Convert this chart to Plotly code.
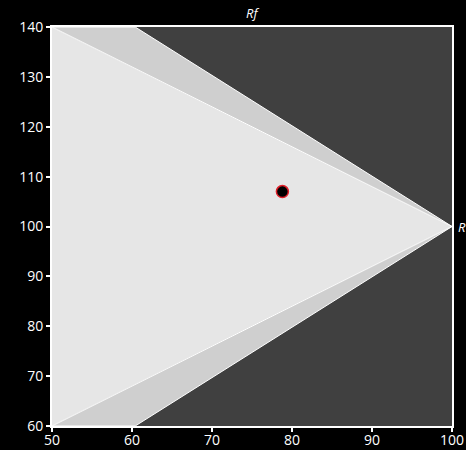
import plotly.graph_objects as go

# Data
tri_light_x = [50, 100, 50]
tri_light_y = [140, 100, 60]
wedge_top_x = [50, 60.4, 100]
wedge_top_y = [140, 140, 100]
wedge_bot_x = [50, 60.4, 100]
wedge_bot_y = [60, 60, 100]
point_x = [78.8]
point_y = [107.0]

fig = go.Figure()
fig.add_trace(go.Scatter(x=wedge_top_x, y=wedge_top_y, fill="toself", mode="lines",
                         fillcolor="#cfcfcf", line=dict(color="white", width=1), hoverinfo="skip"))
fig.add_trace(go.Scatter(x=wedge_bot_x, y=wedge_bot_y, fill="toself", mode="lines",
                         fillcolor="#cfcfcf", line=dict(color="white", width=1), hoverinfo="skip"))
fig.add_trace(go.Scatter(x=tri_light_x, y=tri_light_y, fill="toself", mode="lines",
                         fillcolor="#e6e6e6", line=dict(color="white", width=1), hoverinfo="skip"))
fig.add_trace(go.Scatter(x=point_x, y=point_y, mode="markers",
                         marker=dict(size=12, color="black", line=dict(color="#e0202a", width=1.5))))

font = dict(family="Open Sans, sans-serif", size=14, color="white")
fig.update_layout(
    width=466, height=450,
    paper_bgcolor="black", plot_bgcolor="#404040",
    margin=dict(l=52, r=14, t=27, b=24),
    showlegend=False,
    font=font,
    xaxis=dict(range=[50, 100], dtick=10, showgrid=False, zeroline=False,
               showline=True, linecolor="white", linewidth=2, mirror=True,
               ticks="outside", tickcolor="white", ticklen=4, tickwidth=2,
               tickfont=font, automargin=False, ticklabelstandoff=-4),
    yaxis=dict(range=[60, 140], dtick=10, showgrid=False, zeroline=False,
               showline=True, linecolor="white", linewidth=2, mirror=True,
               ticks="outside", tickcolor="white", ticklen=4, tickwidth=2,
               tickfont=font, automargin=False),
    annotations=[
        dict(text="<i>Rf</i>", x=0.5, y=1, xref="paper", yref="paper",
             xanchor="center", yanchor="bottom", yshift=3, showarrow=False,
             font=dict(family="Open Sans, sans-serif", size=13, color="white")),
        dict(text="<i>R</i>", x=100, y=100, xref="x", yref="y",
             xanchor="left", yanchor="middle", xshift=4, showarrow=False,
             font=dict(family="Open Sans, sans-serif", size=13, color="white")),
    ],
)
fig.write_html("out.html")
